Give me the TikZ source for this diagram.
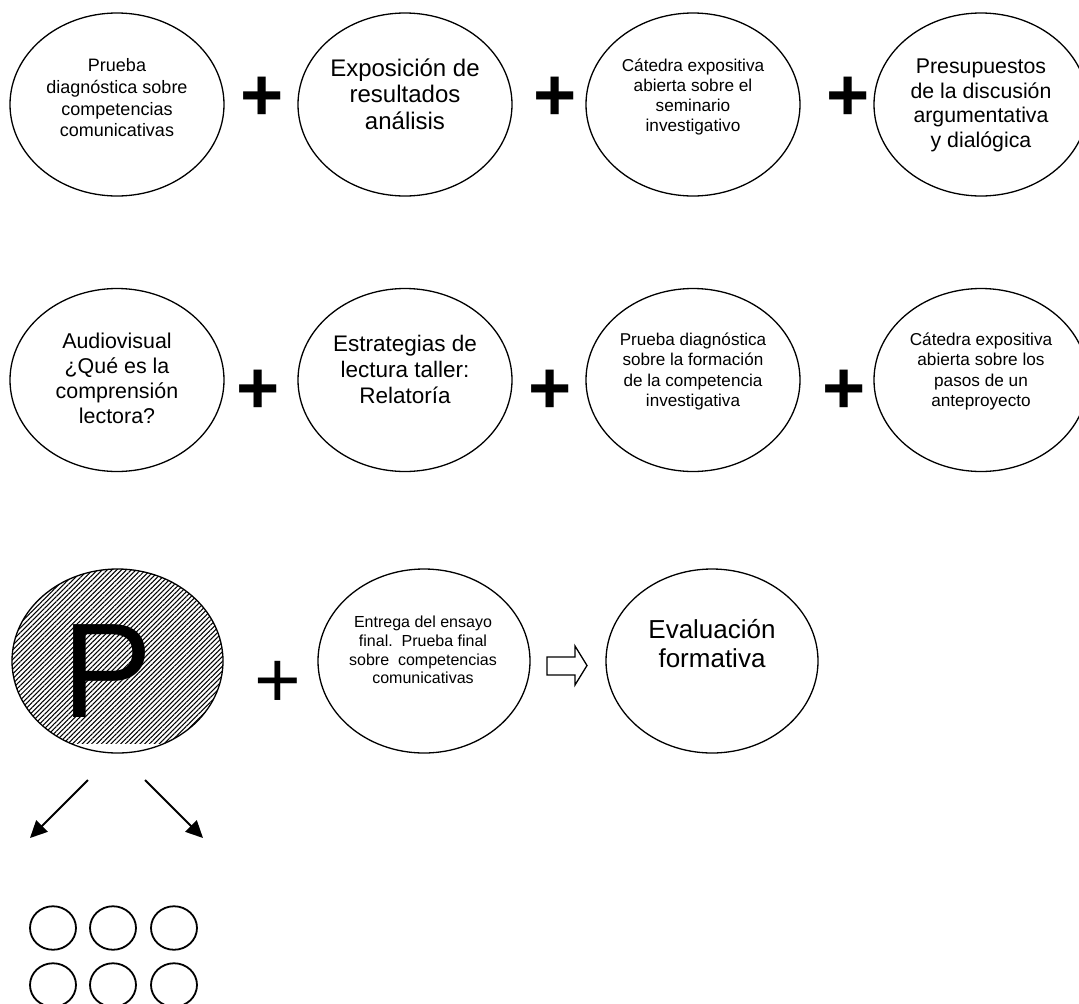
\documentclass[tikz,border=0pt]{standalone}
\usepackage{fontspec}
\setmainfont{Liberation Sans}
\usetikzlibrary{shapes.geometric,arrows.meta,patterns.meta}
\newcommand\etxt[3]{\parbox[t]{230pt}{\centering\fontsize{#1}{#2}\selectfont #3\par}}
\begin{document}
\begin{tikzpicture}[x=1pt,y=-1pt,
  ell/.style={draw=black,line width=1.3pt,ellipse,inner sep=0pt,minimum width=214pt,minimum height=183pt},
  txt/.style={anchor=base,inner sep=0pt,text=black},
  plusb/.style={anchor=base,inner sep=0pt,font=\fontsize{74}{74}\selectfont\bfseries},
  plusr/.style={anchor=base,inner sep=0pt,font=\fontsize{80}{80}\selectfont},
  arr/.style={line width=2pt,-{Triangle[length=17pt,width=16pt]}},
  circ/.style={draw=black,line width=1.8pt,ellipse,inner sep=0pt,minimum width=46pt,minimum height=43.5pt}]
\clip (0,0) rectangle (1079,1004);
\fill[white] (0,0) rectangle (1079,1004);
% row 1
\node[ell] (e1) at (117,104.5) {};
\node[ell] (e2) at (405,104.5) {};
\node[ell] (e3) at (693,104.5) {};
\node[ell] (e4) at (981,104.5) {};
\node[txt] (t1) at (117,71.8) {\etxt{18}{21.7}{Prueba\\diagnóstica sobre\\competencias\\comunicativas}};
\node[txt] (t2) at (405,76.2) {\etxt{24}{26.5}{Exposición de\\resultados\\análisis}};
\node[txt] (t3) at (693,71.5) {\etxt{17.2}{20}{Cátedra expositiva\\abierta sobre el\\seminario\\investigativo}};
\node[txt] (t4) at (981,73.5) {\etxt{21.3}{24.7}{Presupuestos\\de la discusión\\argumentativa\\y dialógica}};
\node[plusb] (p1) at (262,120.7) {+};
\node[plusb] (p2) at (555,120.7) {+};
\node[plusb] (p3) at (848,120.7) {+};
% row 2
\node[ell] (e5) at (117,380) {};
\node[ell] (e6) at (405,380) {};
\node[ell] (e7) at (693,380) {};
\node[ell] (e8) at (981,380) {};
\node[txt] (t5) at (117,348.5) {\etxt{21.4}{25}{Audiovisual\\¿Qué es la\\comprensión\\lectora?}};
\node[txt] (t6) at (405,351) {\etxt{22.5}{26}{Estrategias de\\lectura taller:\\Relatoría}};
\node[txt] (t7) at (693,345.5) {\etxt{17.1}{20.3}{Prueba diagnóstica\\sobre la formación\\de la competencia\\investigativa}};
\node[txt] (t8) at (981,345.5) {\etxt{17.2}{20.3}{Cátedra expositiva\\abierta sobre los\\pasos de un\\anteproyecto}};
\node[plusb] (p4) at (258,413.7) {+};
\node[plusb] (p5) at (550,413.7) {+};
\node[plusb] (p6) at (844,413.7) {+};
% row 3
\begin{scope}
\clip (0,560) rectangle (1079,743.5);
\fill[pattern={Lines[angle=45,distance=3.4pt,line width=1.05pt]}] (117.5,661) ellipse [x radius=105.5, y radius=92];
\end{scope}
\node[ell,minimum width=211pt,minimum height=184pt] (pe) at (117.5,661) {};
\node[anchor=base,inner sep=0pt,font=\fontsize{135}{135}\selectfont] (pl) at (107.5,717) {P};
\node[plusr] (p7) at (278,707.8) {+};
\node[ell,minimum width=212pt,minimum height=184pt] (e9) at (424,661) {};
\node[ell,minimum width=212pt,minimum height=184pt] (e10) at (712,661) {};
\node[txt] (t9) at (423,627.5) {\etxt{16}{18.8}{Entrega del ensayo\\final.\ \ Prueba final\\sobre\ \ competencias\\comunicativas}};
\node[txt] (t10) at (712,638.6) {\etxt{26}{29}{Evaluación\\formativa}};
\draw[line width=1.3pt,fill=white] (547,657) -- (575,657) -- (575,646) -- (587,665.5) -- (575,685) -- (575,675) -- (547,675) -- cycle;
% arrows
\coordinate (a1s) at (88,780);
\coordinate (a1e) at (30,838);
\coordinate (a2s) at (145,780);
\coordinate (a2e) at (203,838);
\draw[arr] (a1s) -- (a1e);
\draw[arr] (a2s) -- (a2e);
% small circles
\node[circ] (c1) at (53,928) {};
\node[circ] (c2) at (113,928) {};
\node[circ] (c3) at (174,928) {};
\node[circ] (c4) at (53,985) {};
\node[circ] (c5) at (113,985) {};
\node[circ] (c6) at (174,985) {};
\end{tikzpicture}
\end{document}
